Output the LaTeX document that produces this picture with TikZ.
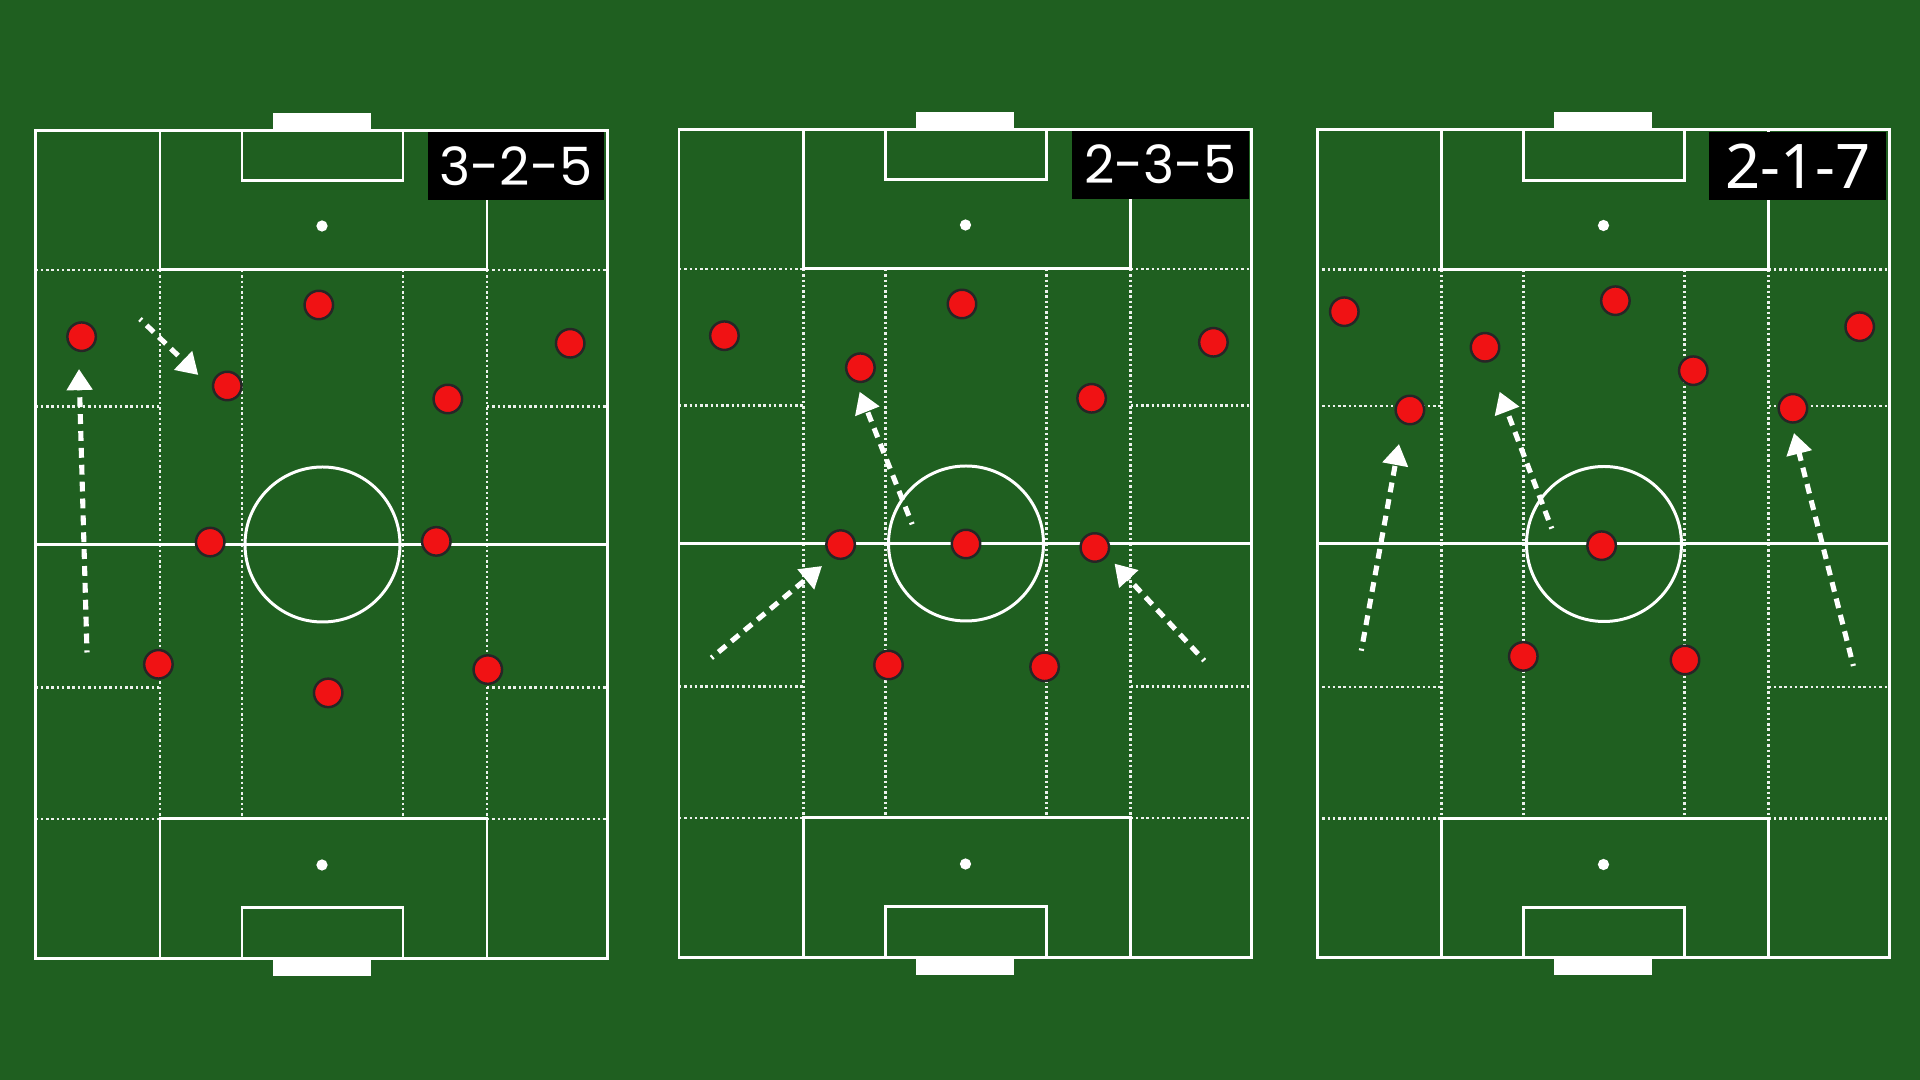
\documentclass[tikz,border=0pt]{standalone}
\usepackage{fontspec}
\newfontfamily\lblfont{Poppins}
\newfontfamily\lblfontb{Noto Sans}
\usetikzlibrary{arrows.meta}
\definecolor{turf}{RGB}{31,95,32}
\definecolor{playerred}{RGB}{240,18,20}
\tikzset{
  pline/.style={white, line width=0.85pt},
  zline/.style={white!92!turf, line width=0.6pt, dash pattern=on 0.7pt off 0.8pt},
  spot/.style={circle, fill=white, minimum size=3.2pt, inner sep=0pt},
  player/.style={circle, fill=playerred, draw=black!85, line width=0.7pt, minimum size=8.1pt, inner sep=0pt},
  run/.style={white, line width=1.45pt, dash pattern=on 2.8pt off 2pt, dash phase=2.2pt, -{Triangle[length=6pt,width=7.1pt]}},
  tag/.style={fill=black, text=white, minimum width=50.2pt, minimum height=19.3pt, inner sep=0pt, anchor=north east},
}
\newcommand\drawpitch[3]{%
\begin{scope}[shift={(#1,#2)}]
  % zone lines
  \draw[zline] (124.5,139.5) -- (124.5,688.5);
  \draw[zline] (451.5,139.5) -- (451.5,688.5);
  \draw[zline] (206.5,139.5) -- (206.5,688.5);
  \draw[zline] (367.5,139.5) -- (367.5,688.5);
  \foreach \yy in {139.5,276,557,688.5}{
    \draw[zline] (0,\yy) -- (124.5,\yy);
    \draw[zline] (451.5,\yy) -- (572,\yy);
  }
  % goals
  \fill[white] (237,0) rectangle (335,-17.5);
  \fill[white] (237,828) rectangle (335,845.5);
  % solid markings
  \draw[pline] (0,0) rectangle (572,828);
  \draw[pline] (0,414) -- (572,414);
  \draw[pline] (287,414) circle[radius=77.5];
  \draw[pline] (124.5,0) rectangle (451.5,139.5);
  \draw[pline] (124.5,828) rectangle (451.5,688.5);
  \draw[pline] (206.5,0) rectangle (367.5,50.5);
  \draw[pline] (206.5,828) rectangle (367.5,777.5);
  \node[spot] (#3ts) at (286.5,95.5) {};
  \node[spot] (#3bs) at (286.5,734.5) {};
\end{scope}}

\begin{document}
\begin{tikzpicture}[x=0.01cm, y=-0.01cm]
  \useasboundingbox (0,0) rectangle (1920,1080);
  \fill[turf] (0,0) rectangle (1920,1080);

  \drawpitch{35.5}{130.5}{pa}
  \drawpitch{679}{129.5}{pb}
  \drawpitch{1317}{130}{pc}

  % labels
  \node[tag] (ta) at (605,131.5) {\lblfont\fontsize{15pt}{15pt}\selectfont 3-2-5};
  \node[tag] (tb) at (1249.7,130) {\lblfont\fontsize{15pt}{15pt}\selectfont 2-3-5};
  \node[tag] (tc) at (1886.7,131.5) {\lblfontb\fontsize{17.5pt}{17.5pt}\selectfont 2-1-7};

  % runs, pitch 1
  \coordinate (a1s) at (87,652.5);   \coordinate (a1e) at (79,369);
  \coordinate (a2s) at (140,319);    \coordinate (a2e) at (198.3,375);
  % runs, pitch 2
  \coordinate (b1s) at (912.2,524.3); \coordinate (b1e) at (859.6,391.7);
  \coordinate (b2s) at (711.4,657.9); \coordinate (b2e) at (822,566);
  \coordinate (b3s) at (1204.3,660.7); \coordinate (b3e) at (1114.5,563.6);
  % runs, pitch 3
  \coordinate (c1s) at (1361.3,650.7); \coordinate (c1e) at (1399,444);
  \coordinate (c2s) at (1551.8,528.6); \coordinate (c2e) at (1499.6,391.7);
  \coordinate (c3s) at (1853.4,666);   \coordinate (c3e) at (1794,433);

  \foreach \s/\e in {a1s/a1e,a2s/a2e,b1s/b1e,b2s/b2e,b3s/b3e,c1s/c1e,c2s/c2e,c3s/c3e}
    \draw[run] (\s) -- (\e);

  % players, pitch 1
  \node[player] (pa1) at (81.6,336.7) {};
  \node[player] (pa2) at (227.3,386) {};
  \node[player] (pa3) at (318.8,305) {};
  \node[player] (pa4) at (570.2,343.3) {};
  \node[player] (pa5) at (447.8,399) {};
  \node[player] (pa6) at (210.2,542.1) {};
  \node[player] (pa7) at (436.3,541.4) {};
  \node[player] (pa8) at (158.4,664.3) {};
  \node[player] (pa9) at (328.2,692.9) {};
  \node[player] (pa10) at (487.8,669.6) {};
  % players, pitch 2
  \node[player] (pb1) at (724.4,335.7) {};
  \node[player] (pb2) at (860.4,367.7) {};
  \node[player] (pb3) at (962,304) {};
  \node[player] (pb4) at (1213.4,342.3) {};
  \node[player] (pb5) at (1091.6,398.3) {};
  \node[player] (pb6) at (840.6,544.6) {};
  \node[player] (pb7) at (966,544) {};
  \node[player] (pb8) at (1094.8,547.5) {};
  \node[player] (pb9) at (888.5,665) {};
  \node[player] (pb10) at (1044.6,666.8) {};
  % players, pitch 3
  \node[player] (pc1) at (1344.3,311.7) {};
  \node[player] (pc2) at (1485,347.3) {};
  \node[player] (pc3) at (1615.4,300.7) {};
  \node[player] (pc4) at (1859.7,326.7) {};
  \node[player] (pc5) at (1693.3,370.7) {};
  \node[player] (pc6) at (1409.9,410) {};
  \node[player] (pc7) at (1792.9,408.3) {};
  \node[player] (pc8) at (1601.6,545.7) {};
  \node[player] (pc9) at (1523.3,656.4) {};
  \node[player] (pc10) at (1685,660) {};
\end{tikzpicture}
\end{document}
